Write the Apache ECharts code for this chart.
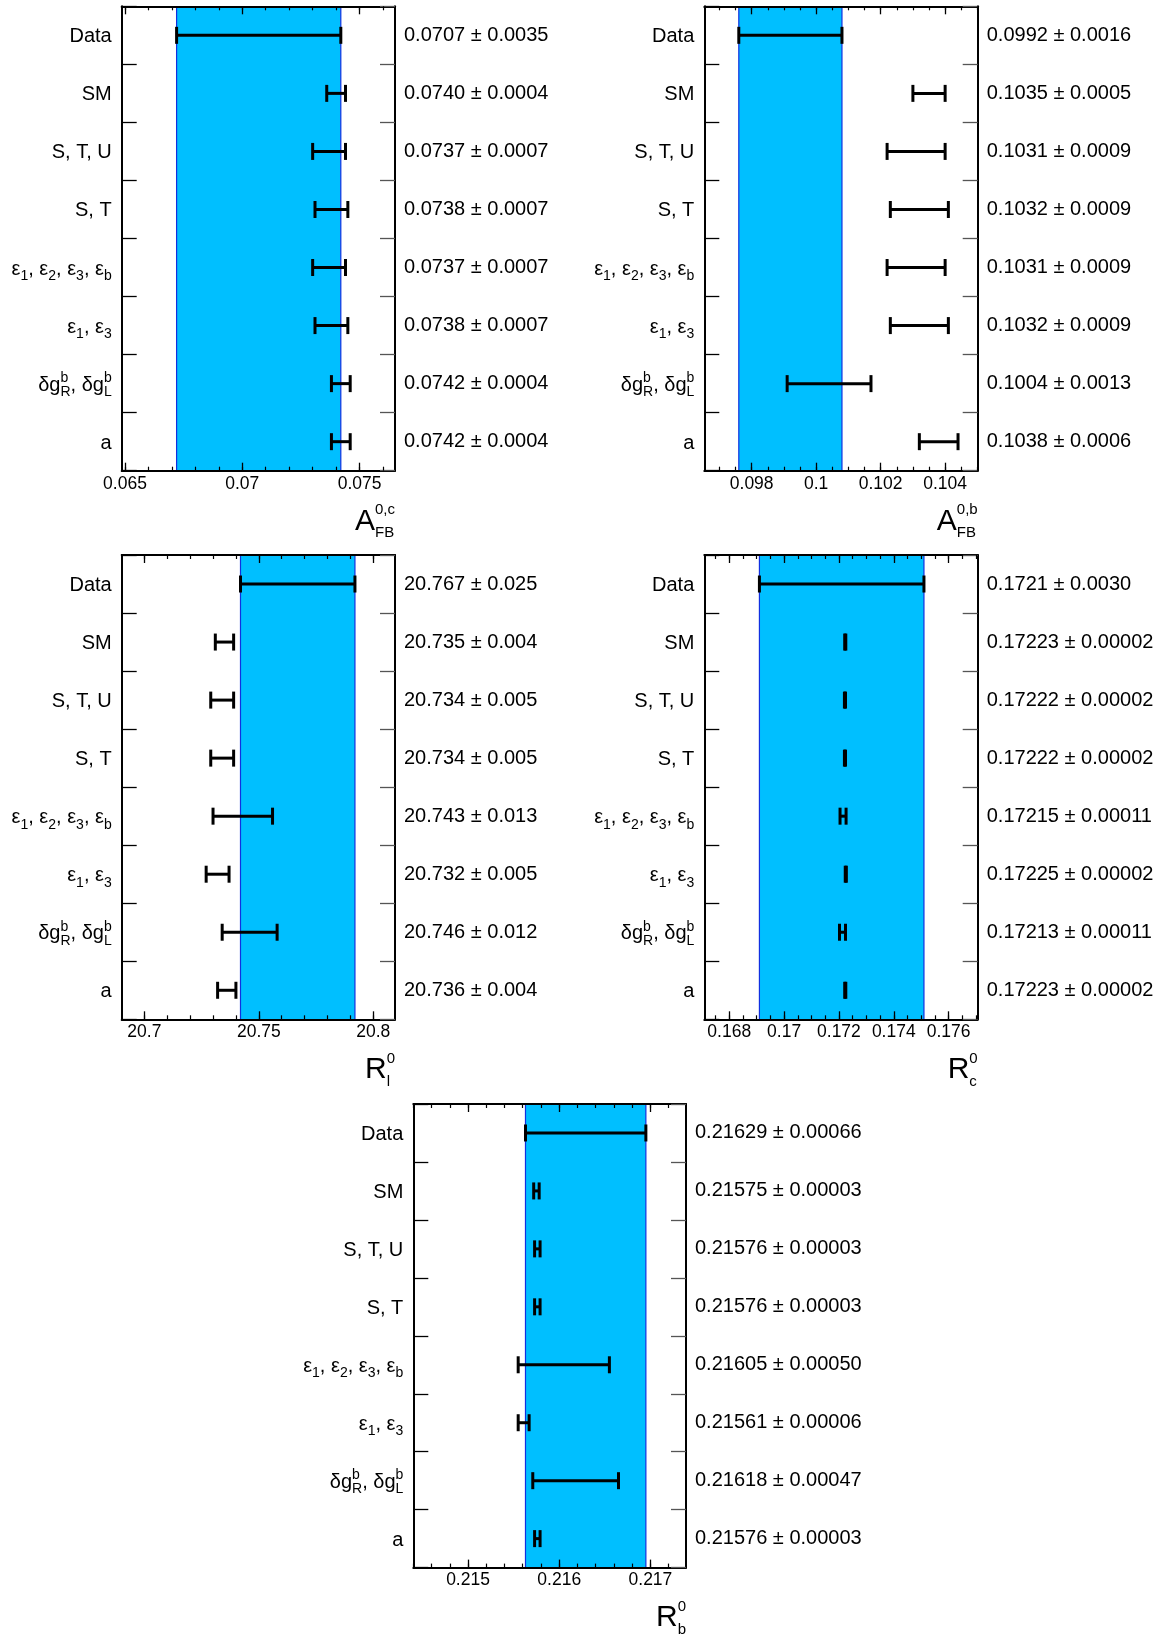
<!DOCTYPE html>
<html><head><meta charset="utf-8">
<script src="https://cdn.jsdelivr.net/npm/echarts@6/dist/echarts.min.js"></script>
<style>html,body{margin:0;padding:0;background:#fff}#c{width:1164px;height:1635px}</style>
</head><body><div id="c"></div>
<script>
// ---------------- data ----------------
const categories = ['Data', 'SM', 'S, T, U', 'S, T', 'ε_1, ε_2, ε_3, ε_b', 'ε_1, ε_3', 'δg^b_R, δg^b_L', 'a'];

const afbcVal = [0.0707, 0.0740, 0.0737, 0.0738, 0.0737, 0.0738, 0.0742, 0.0742];
const afbcErr = [0.0035, 0.0004, 0.0007, 0.0007, 0.0007, 0.0007, 0.0004, 0.0004];
const afbcDigits = [4, 4, 4, 4, 4, 4, 4, 4];
const afbcTicks = [0.065, 0.07, 0.075];

const afbbVal = [0.0992, 0.1035, 0.1031, 0.1032, 0.1031, 0.1032, 0.1004, 0.1038];
const afbbErr = [0.0016, 0.0005, 0.0009, 0.0009, 0.0009, 0.0009, 0.0013, 0.0006];
const afbbDigits = [4, 4, 4, 4, 4, 4, 4, 4];
const afbbTicks = [0.098, 0.1, 0.102, 0.104];

const rlVal = [20.767, 20.735, 20.734, 20.734, 20.743, 20.732, 20.746, 20.736];
const rlErr = [0.025, 0.004, 0.005, 0.005, 0.013, 0.005, 0.012, 0.004];
const rlDigits = [3, 3, 3, 3, 3, 3, 3, 3];
const rlTicks = [20.7, 20.75, 20.8];

const rcVal = [0.1721, 0.17223, 0.17222, 0.17222, 0.17215, 0.17225, 0.17213, 0.17223];
const rcErr = [0.0030, 0.00002, 0.00002, 0.00002, 0.00011, 0.00002, 0.00011, 0.00002];
const rcDigits = [4, 5, 5, 5, 5, 5, 5, 5];
const rcTicks = [0.168, 0.17, 0.172, 0.174, 0.176];

const rbVal = [0.21629, 0.21575, 0.21576, 0.21576, 0.21605, 0.21561, 0.21618, 0.21576];
const rbErr = [0.00066, 0.00003, 0.00003, 0.00003, 0.00050, 0.00006, 0.00047, 0.00003];
const rbDigits = [5, 5, 5, 5, 5, 5, 5, 5];
const rbTicks = [0.215, 0.216, 0.217];

// ---------------- layout / style ----------------
const FONT = '"Liberation Sans", Arial, Helvetica, sans-serif';
const panels = [
  { val: afbcVal, err: afbcErr, digits: afbcDigits, ticks: afbcTicks, minorStep: 0.001, title: ['A', '0,c', 'FB'],
    left: 121.7, top: 6.3, width: 273.3, height: 464.4, min: 0.06486, max: 0.07651 },
  { val: afbbVal, err: afbbErr, digits: afbbDigits, ticks: afbbTicks, minorStep: 0.0005, title: ['A', '0,b', 'FB'],
    left: 704.3, top: 6.3, width: 273.4, height: 464.4, min: 0.09653, max: 0.10501 },
  { val: rlVal, err: rlErr, digits: rlDigits, ticks: rlTicks, minorStep: 0.01, title: ['R', '0', 'l'],
    left: 121.7, top: 555, width: 273.3, height: 464.3, min: 20.6901, max: 20.8095 },
  { val: rcVal, err: rcErr, digits: rcDigits, ticks: rcTicks, minorStep: 0.0005, title: ['R', '0', 'c'],
    left: 704.3, top: 555, width: 273.4, height: 464.3, min: 0.16709, max: 0.17706 },
  { val: rbVal, err: rbErr, digits: rbDigits, ticks: rbTicks, minorStep: 0.0002, title: ['R', '0', 'b'],
    left: 413.3, top: 1104, width: 272.7, height: 463.6, min: 0.21440, max: 0.21739 }
];

function minorTicks(min, max, step) {
  const r = [];
  for (let k = Math.ceil(min / step - 1e-9); k * step <= max + 1e-12; k++) r.push(+(k * step).toFixed(8));
  return r;
}
function toRich(s) {
  let out = '', buf = '';
  const flush = () => { if (buf) { out += '{n|' + buf + '}'; buf = ''; } };
  for (let i = 0; i < s.length; i++) {
    const c = s[i];
    if (c === '^') { flush(); const stacked = s[i + 2] === '_'; out += '{' + (stacked ? 'supz' : 'sup') + '|' + s[i + 1] + '}'; i++; }
    else if (c === '_') { flush(); out += '{sub|' + s[i + 1] + '}'; i++; }
    else buf += c;
  }
  flush();
  return out;
}
const mctx = document.createElement('canvas').getContext('2d');
mctx.font = '15px "Liberation Sans"';
const tw = t => mctx.measureText(t).width;

const labelRich = {
  n: { fontSize: 20, lineHeight: 28, align: 'left', fontFamily: FONT, color: '#000' },
  sup: { fontSize: 14, lineHeight: 13, align: 'left', verticalAlign: 'top', fontFamily: FONT, color: '#000' },
  supz: { fontSize: 14, lineHeight: 13, align: 'left', verticalAlign: 'top', width: 0.01, fontFamily: FONT, color: '#000' },
  sub: { fontSize: 14, lineHeight: 19.7, align: 'left', verticalAlign: 'bottom', fontFamily: FONT, color: '#000' }
};

const grid = [], xAxis = [], yAxis = [], series = [], graphic = [];
panels.forEach((p, i) => {
  grid.push({ left: p.left, top: p.top, width: p.width, height: p.height, outerBoundsMode: 'none' });
  const minors = minorTicks(p.min, p.max, p.minorStep);
  const base = { type: 'value', gridIndex: i, min: p.min, max: p.max, splitLine: { show: false }, z: 10 };
  const frameLine = { show: true, onZero: false, lineStyle: { color: '#000', width: 2 } };
  ['bottom', 'top'].forEach(pos => {
    xAxis.push(Object.assign({}, base, {
      position: pos, axisLine: frameLine,
      axisTick: { show: true, inside: true, length: 8, customValues: p.ticks, lineStyle: { color: '#000', width: 1.3 } },
      axisLabel: { show: pos === 'bottom', customValues: p.ticks, fontSize: 17.5, color: '#000', fontFamily: FONT, margin: 4 }
    }));
    xAxis.push(Object.assign({}, base, {
      position: pos, axisLine: { show: false, onZero: false },
      axisTick: { show: true, inside: true, length: 4, customValues: minors, lineStyle: { color: '#000', width: 1.2 } },
      axisLabel: { show: false }
    }));
  });
  yAxis.push({
    type: 'category', gridIndex: i, position: 'left', inverse: true, data: categories, z: 10,
    axisLine: frameLine,
    axisTick: { show: true, inside: true, length: 15, lineStyle: { color: '#000', width: 1.3 } },
    axisLabel: { interval: 0, margin: 10, padding: [3, 0, 0, 0], formatter: v => toRich(v), rich: labelRich }
  });
  yAxis.push({
    type: 'category', gridIndex: i, position: 'right', inverse: true, z: 10,
    data: p.val.map((v, k) => v.toFixed(p.digits[k]) + ' ± ' + p.err[k].toFixed(p.digits[k])),
    axisLine: frameLine,
    axisTick: { show: true, inside: true, length: 15, lineStyle: { color: '#555', width: 1.3 } },
    axisLabel: { interval: 0, margin: 9, padding: [3, 0, 0, 0], fontSize: 20, color: '#000', fontFamily: FONT }
  });
  // Data band
  series.push({
    type: 'custom', xAxisIndex: i * 4, yAxisIndex: i * 2, z: 1, silent: true,
    data: [[p.val[0] - p.err[0], p.val[0] + p.err[0], 0]],
    encode: { x: [0, 1], y: 2 },
    renderItem: (params, api) => {
      const cs = params.coordSys;
      const x1 = api.coord([api.value(0), 0])[0];
      const x2 = api.coord([api.value(1), 0])[0];
      return { type: 'group', children: [
        { type: 'rect', shape: { x: x1, y: cs.y, width: x2 - x1, height: cs.height }, style: { fill: '#00bfff' } },
        { type: 'line', shape: { x1: x1, y1: cs.y, x2: x1, y2: cs.y + cs.height }, style: { stroke: '#1030e0', lineWidth: 1.2 } },
        { type: 'line', shape: { x1: x2, y1: cs.y, x2: x2, y2: cs.y + cs.height }, style: { stroke: '#1030e0', lineWidth: 1.2 } }
      ] };
    }
  });
  // error bars
  series.push({
    type: 'custom', xAxisIndex: i * 4, yAxisIndex: i * 2, z: 20, silent: true,
    data: p.val.map((v, k) => [v, p.err[k], k]),
    encode: { x: 0, y: 2 },
    renderItem: (params, api) => {
      const v = api.value(0), e = api.value(1), k = api.value(2);
      const a = api.coord([v - e, k]), b = api.coord([v + e, k]);
      const h = 8.5, st = { stroke: '#000', lineWidth: 3 };
      return { type: 'group', children: [
        { type: 'line', shape: { x1: a[0], y1: a[1], x2: b[0], y2: b[1] }, style: st },
        { type: 'line', shape: { x1: a[0], y1: a[1] - h, x2: a[0], y2: a[1] + h }, style: st },
        { type: 'line', shape: { x1: b[0], y1: b[1] - h, x2: b[0], y2: b[1] + h }, style: st }
      ] };
    }
  });
  // axis title
  const [m, sp, sb] = p.title;
  const supFirst = tw(sp) <= tw(sb);
  const text = supFirst ? '{m|' + m + '}{supz|' + sp + '}{sub|' + sb + '}' : '{m|' + m + '}{subz|' + sb + '}{sup|' + sp + '}';
  const B = p.top + p.height + 61;
  graphic.push({
    type: 'text', x: p.left + p.width, y: B - 10.4, z: 50,
    style: {
      text: text, align: 'right', verticalAlign: 'middle', fill: '#000',
      rich: {
        m: { fontSize: 30, lineHeight: 38, align: 'left', fontFamily: FONT, fill: '#000' },
        sup: { fontSize: 15, lineHeight: 8.4, align: 'left', verticalAlign: 'top', fontFamily: FONT, fill: '#000' },
        supz: { fontSize: 15, lineHeight: 8.4, align: 'left', verticalAlign: 'top', width: 0.01, fontFamily: FONT, fill: '#000' },
        sub: { fontSize: 15, lineHeight: 21.6, align: 'left', verticalAlign: 'bottom', fontFamily: FONT, fill: '#000' },
        subz: { fontSize: 15, lineHeight: 21.6, align: 'left', verticalAlign: 'bottom', width: 0.01, fontFamily: FONT, fill: '#000' }
      }
    }
  });
});

const chart = echarts.init(document.getElementById('c'), null, { renderer: 'canvas' });
chart.setOption({
  animation: false,
  backgroundColor: '#fff',
  textStyle: { fontFamily: FONT },
  grid, xAxis, yAxis, series, graphic
});
</script></body></html>
